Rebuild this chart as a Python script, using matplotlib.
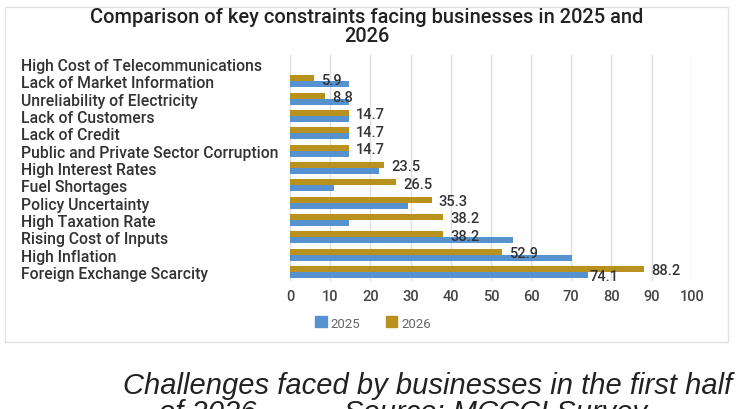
import matplotlib.pyplot as plt
import matplotlib.patches as mpatches
import numpy as np

plt.rcParams['font.family'] = ['Roboto', 'DejaVu Sans']

categories = [
    "High Cost of Telecommunications",
    "Lack of Market Information",
    "Unreliability of Electricity",
    "Lack of Customers",
    "Lack of Credit",
    "Public and Private Sector Corruption",
    "High Interest Rates",
    "Fuel Shortages",
    "Policy Uncertainty",
    "High Taxation Rate",
    "Rising Cost of Inputs",
    "High Inflation",
    "Foreign Exchange Scarcity",
]
values_2025 = [0, 14.7, 14.7, 14.7, 14.7, 14.7, 22.1, 11.0, 29.4, 14.7, 55.4, 70.3, 74.1]
values_2026 = [0, 5.9, 8.8, 14.7, 14.7, 14.7, 23.5, 26.5, 35.3, 38.2, 38.2, 52.9, 88.2]
xticks = [0, 10, 20, 30, 40, 50, 60, 70, 80, 90, 100]

blue = '#5592cf'
gold = '#b8911f'

fig = plt.figure(figsize=(7.48, 4.10), dpi=100, facecolor='white')

# card outline round the chart
card = mpatches.Rectangle((5 / 748, 1 - 343 / 410), 723 / 748, 335 / 410,
                          transform=fig.transFigure, facecolor='none',
                          edgecolor='#e2e2e2', lw=1, zorder=-1)
fig.patches.append(card)

ax = fig.add_axes([290 / 748, 1 - 281.7 / 410, 401.7 / 748, 225.4 / 410])
ax.set_facecolor('none')

y = np.arange(len(categories))
h = 0.34
bars26 = ax.barh(y - h / 2, values_2026, height=h, color=gold, zorder=3)
bars25 = ax.barh(y + h / 2, values_2025, height=h, color=blue, zorder=3)

for bar, v in zip(bars26, values_2026):
    if v > 0:
        ax.annotate(f"{v:.1f}", (bar.get_width(), bar.get_y() + bar.get_height() / 2),
                    xytext=(5, -1), textcoords='offset points', va='center', ha='left',
                    fontsize=10.5, color='#333333', fontweight='medium', zorder=4)
# only the largest 2025 bar carries a label in the original
last = bars25[-1]
ax.annotate(f"{values_2025[-1]:.1f}", (last.get_width(), last.get_y() + last.get_height() / 2),
            xytext=(1, -1), textcoords='offset points', va='center', ha='left',
            fontsize=10.5, color='#333333', fontweight='medium', zorder=4)

ax.set_xlim(0, 100)
ax.set_ylim(len(categories) - 0.5, -0.5)
ax.set_xticks(xticks)
ax.set_xticklabels([str(t) for t in xticks], fontsize=10.5, color='#444444', fontweight='medium')
ax.set_yticks(y)
ax.set_yticklabels(categories, fontsize=11.3, color='#333333', fontweight='medium')
for lab in ax.get_yticklabels():
    lab.set_horizontalalignment('left')
ax.tick_params(axis='y', length=0, pad=194)
ax.tick_params(axis='x', length=0, pad=6)
ax.grid(axis='x', color='#dedede', lw=1, zorder=0)
for s in ax.spines.values():
    s.set_visible(False)

fig.text(367 / 748, 1 - 27 / 410, "Comparison of key constraints facing businesses in 2025 and\n2026",
         ha='center', va='center', fontsize=14.4, color='#222222', fontweight='medium',
         linespacing=1.05)

handles = [mpatches.Patch(color=blue, label='2025'), mpatches.Patch(color=gold, label='2026')]
fig.legend(handles=handles, loc='center', bbox_to_anchor=(373 / 748, 1 - 324 / 410), ncol=2,
           frameon=False, fontsize=9.5, labelcolor='#666666', handlelength=0.9,
           handleheight=0.9, handletextpad=0.3, columnspacing=1.9)

cap_style = dict(ha='left', va='center', fontsize=21, style='italic', color='#222222',
                 family='Liberation Sans')
fig.text(123 / 748, 1 - 386 / 410, "Challenges faced by businesses in the first half", **cap_style)
fig.text(159 / 748, 1 - 413 / 410, "of 2026", **cap_style)
fig.text(344 / 748, 1 - 413 / 410, "Source: MCCCI Survey", **cap_style)

fig.savefig('out.png', dpi=100)
